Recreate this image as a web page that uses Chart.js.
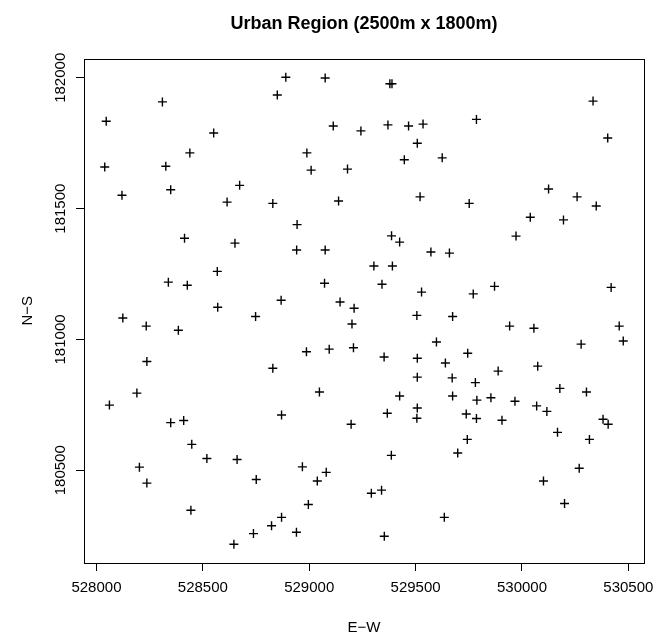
<!DOCTYPE html>
<html>
<head>
<meta charset="utf-8">
<title>Urban Region</title>
<script src="https://cdn.jsdelivr.net/npm/chart.js@4.4.1/dist/chart.umd.min.js"></script>
<style>
  html, body { margin: 0; padding: 0; background: #ffffff; }
  #wrap { width: 660px; height: 640px; }
</style>
</head>
<body>
<div id="wrap"><canvas id="c" width="660" height="640"></canvas></div>
<script>
// Site coordinates (metres, British National Grid)
const eastings = [
  528890, 529075, 529379, 529389, 528850, 528310, 530334, 528046, 529786, 529113,
  529243, 529370, 529467, 529535, 528551, 530403, 529508, 528439, 528989, 529447,
  529625, 528039, 528326, 529009, 529180, 528673, 528120, 528349, 529521, 530125,
  530259, 530349, 528614, 528829, 529138, 529752, 530039, 530195, 528943, 529972,
  529387, 529425, 528414, 528651, 528941, 529075, 529572, 529659, 529304, 529391,
  528568, 528338, 528427, 529072, 529342, 529528, 529771, 529871, 530419, 528868,
  529145, 529211, 528570, 528124, 528748, 529506, 529674, 528234, 528385, 529201,
  529942, 530056, 530457, 530476, 529598, 530278, 528987, 529094, 529208, 528237,
  529352, 529508, 529745, 529640, 530074, 528829, 529888, 529508, 529672, 529781,
  530178, 528190, 529048, 530303, 529425, 529674, 529854, 529788, 529967, 528061,
  530069, 530117, 529367, 529508, 529506, 529738, 529786, 529906, 528870, 528349,
  528410, 529197, 530381, 530405, 530167, 529743, 530317, 528448, 529698, 529386,
  528519, 528661, 528202, 528968, 529080, 530269, 528237, 528751, 529038, 530101,
  529292, 529340, 530200, 528996, 528444, 529635, 528870, 528823, 528738, 528940,
  529353, 528646
];
const northings = [
  182002, 181999, 181977, 181977, 181934, 181908, 181911, 181834, 181841, 181816,
  181797, 181820, 181816, 181823, 181789, 181770, 181750, 181713, 181713, 181687,
  181694, 181659, 181662, 181647, 181651, 181589, 181551, 181572, 181545, 181575,
  181545, 181510, 181525, 181520, 181529, 181520, 181467, 181457, 181439, 181395,
  181396, 181372, 181387, 181368, 181342, 181342, 181334, 181330, 181281, 181281,
  181260, 181219, 181207, 181215, 181211, 181181, 181174, 181203, 181199, 181150,
  181143, 181119, 181123, 181082, 181088, 181092, 181088, 181051, 181035, 181059,
  181051, 181043, 181051, 180994, 180990, 180982, 180953, 180963, 180968, 180916,
  180933, 180928, 180947, 180910, 180898, 180890, 180879, 180856, 180853, 180835,
  180813, 180795, 180799, 180799, 180784, 180784, 180777, 180768, 180764, 180749,
  180746, 180725, 180718, 180738, 180699, 180715, 180698, 180691, 180711, 180682,
  180690, 180676, 180695, 180676, 180645, 180618, 180618, 180599, 180566, 180557,
  180545, 180541, 180512, 180513, 180492, 180508, 180451, 180465, 180459, 180459,
  180412, 180424, 180373, 180369, 180347, 180320, 180320, 180288, 180258, 180263,
  180248, 180217
];

// Axis tick values
const xTicks = [528000, 528500, 529000, 529500, 530000, 530500];
const yTicks = [180500, 181000, 181500, 182000];

const FONT = '"Liberation Sans", Arial, Helvetica, sans-serif';

// 4% padding on each side of the data range
function paddedRange(vals) {
  const lo = Math.min(...vals), hi = Math.max(...vals);
  const pad = (hi - lo) * 0.04;
  return [lo - pad, hi + pad];
}
const [xMin, xMax] = paddedRange(eastings);
const [yMin, yMax] = paddedRange(northings);

const points = eastings.map((e, i) => ({ x: e, y: northings[i] }));

// Box around the plotting region
const frame = {
  id: 'frame',
  afterDraw(chart) {
    const { ctx, chartArea: a } = chart;
    ctx.save();
    ctx.strokeStyle = '#000';
    ctx.lineWidth = 1;
    ctx.strokeRect(Math.round(a.left) + 0.5, Math.round(a.top) + 0.5,
                   Math.round(a.right - a.left), Math.round(a.bottom - a.top));
    ctx.restore();
  }
};

new Chart(document.getElementById('c'), {
  type: 'scatter',
  data: {
    datasets: [{
      data: points,
      pointStyle: 'cross',
      pointRadius: 4.5,
      pointHoverRadius: 4.5,
      borderWidth: 1.4,
      borderColor: '#000',
      backgroundColor: '#000'
    }]
  },
  options: {
    responsive: false,
    animation: false,
    devicePixelRatio: 1,
    layout: { padding: { left: 0, right: 16, top: 0, bottom: 0 } },
    plugins: {
      legend: { display: false },
      tooltip: { enabled: false },
      title: {
        display: true,
        fullSize: false,
        text: 'Urban Region (2500m x 1800m)',
        color: '#000',
        font: { family: FONT, size: 18, weight: 'bold' },
        padding: { top: 13, bottom: 24 }
      }
    },
    scales: {
      x: {
        type: 'linear',
        min: xMin,
        max: xMax,
        afterBuildTicks(scale) { scale.ticks = xTicks.map(v => ({ value: v })); },
        afterFit(scale) { scale.height = 77; scale.paddingLeft = 0; scale.paddingRight = 0; },
        ticks: {
          color: '#000',
          font: { family: FONT, size: 15 },
          padding: 8,
          maxRotation: 0,
          autoSkip: false,
          callback: v => String(v)
        },
        grid: { display: true, drawOnChartArea: false, drawTicks: true, tickLength: 8, color: '#000', lineWidth: 1 },
        border: { display: false },
        title: {
          display: true,
          text: 'E\u2212W',
          color: '#000',
          font: { family: FONT, size: 15 },
          padding: { top: 0, bottom: 3 }
        }
      },
      y: {
        type: 'linear',
        min: yMin,
        max: yMax,
        afterBuildTicks(scale) { scale.ticks = yTicks.map(v => ({ value: v })); },
        afterFit(scale) { scale.width = 84; scale.paddingTop = 0; scale.paddingBottom = 0; },
        ticks: {
          color: '#000',
          font: { family: FONT, size: 15 },
          minRotation: 90,
          maxRotation: 90,
          crossAlign: 'center',
          padding: -10,
          autoSkip: false,
          callback: v => String(v)
        },
        grid: { display: true, drawOnChartArea: false, drawTicks: true, tickLength: 8, color: '#000', lineWidth: 1 },
        border: { display: false },
        title: {
          display: true,
          text: 'N\u2212S',
          color: '#000',
          font: { family: FONT, size: 15 },
          padding: { top: 19, bottom: 0 }
        }
      }
    }
  },
  plugins: [frame]
});
</script>
</body>
</html>
